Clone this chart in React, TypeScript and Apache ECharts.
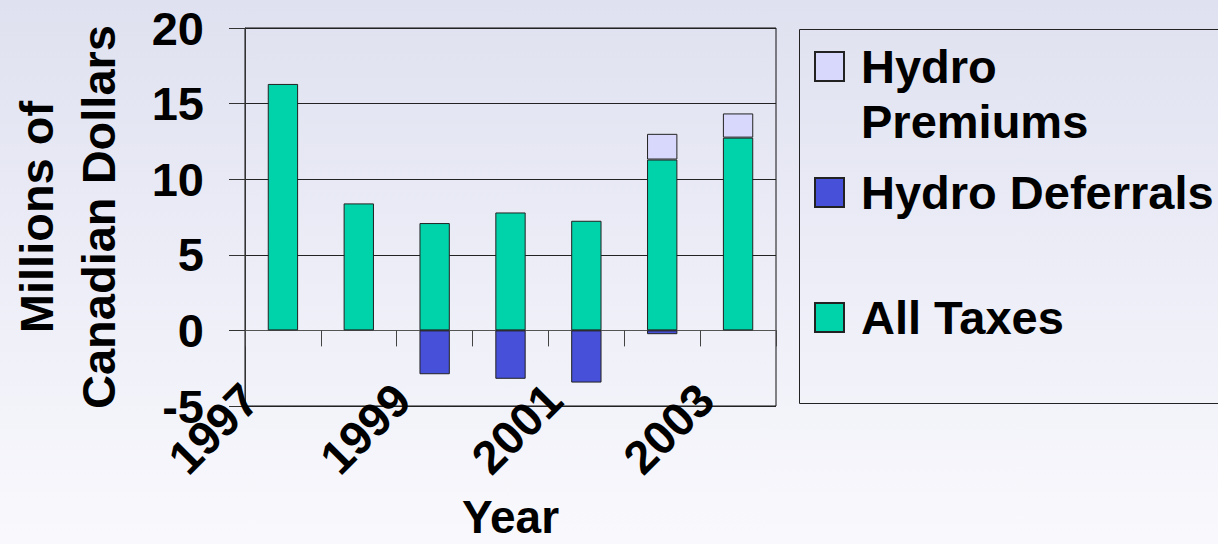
import React, { useEffect, useRef } from "react";
import * as echarts from "echarts";

const years = ["1997", "1998", "1999", "2000", "2001", "2002", "2003"];
const allTaxes = [16.3, 8.4, 7.1, 7.8, 7.25, 11.3, 12.75];
const hydroDeferrals: (number | string)[] = ["-", "-", -2.9, -3.2, -3.45, -0.25, "-"];
const hydroPremiums: (number | string)[] = ["-", "-", "-", "-", "-", 1.7, 1.6];
const yTicks = { min: -5, max: 20, interval: 5 };

const FONT = "'Liberation Sans', Arial, sans-serif";
const FS = 47;

export default function App() {
  const ref = useRef<HTMLDivElement>(null);
  useEffect(() => {
    if (!ref.current) return;
    const chart = echarts.init(ref.current, undefined, { renderer: "svg" });
    const barBorder = { borderColor: "#222", borderWidth: 1 };
    const legendBase = {
      orient: "vertical",
      left: 814,
      padding: 0,
      itemWidth: 29,
      itemHeight: 29,
      icon: "rect",
      selectedMode: false,
    };
    const legendText = {
      fontFamily: FONT,
      fontWeight: "bold",
      fontSize: FS,
      color: "#000",
      lineHeight: 55,
      padding: [0, 0, 0, 12],
    };
    chart.setOption({
      animation: false,
      backgroundColor: {
        type: "linear",
        x: 0,
        y: 0,
        x2: 0,
        y2: 1,
        colorStops: [
          { offset: 0, color: "#dfe1f0" },
          { offset: 1, color: "#f9f9fd" },
        ],
      },
      textStyle: { fontFamily: FONT, fontWeight: "bold" },
      grid: {
        left: 245,
        right: 1218 - 776,
        top: 28,
        bottom: 544 - 406,
        containLabel: false,
        outerBoundsMode: "none",
        show: true,
        borderColor: "#111",
        borderWidth: 1,
        backgroundColor: "transparent",
      },
      legend: [
        {
          ...legendBase,
          top: -16,
          data: ["Hydro Premiums"],
          formatter: () => " \nHydro\nPremiums",
          textStyle: legendText,
        },
        {
          ...legendBase,
          top: 165,
          data: ["Hydro Deferrals"],
          textStyle: legendText,
        },
        {
          ...legendBase,
          top: 290,
          data: ["All Taxes"],
          textStyle: legendText,
        },
      ],
      xAxis: {
        type: "category",
        data: years,
        name: "Year",
        nameLocation: "middle",
        nameGap: 91,
        nameTextStyle: {
          fontFamily: FONT,
          fontWeight: "bold",
          fontSize: 46,
          color: "#000",
          lineHeight: 40,
        },
        axisLine: { show: true, onZero: true, lineStyle: { color: "#555", width: 1 } },
        axisTick: { show: true, interval: 0, length: 16, lineStyle: { color: "#444" } },
        axisLabel: {
          interval: 1,
          rotate: 45,
          margin: -47,
          padding: [0, 46, 0, 0],
          fontFamily: FONT,
          fontWeight: "bold",
          fontSize: FS,
          color: "#000",
        },
        splitLine: { show: false },
      },
      yAxis: {
        type: "value",
        min: yTicks.min,
        max: yTicks.max,
        interval: yTicks.interval,
        name: "Millions of\nCanadian Dollars",
        nameLocation: "middle",
        nameGap: 116,
        nameRotate: 90,
        nameTextStyle: {
          fontFamily: FONT,
          fontWeight: "bold",
          fontSize: FS,
          color: "#000",
          lineHeight: 62,
        },
        axisLine: { show: true, lineStyle: { color: "#333" } },
        axisTick: { show: true, length: 16, lineStyle: { color: "#333" } },
        axisLabel: {
          margin: 41,
          fontFamily: FONT,
          fontWeight: "bold",
          fontSize: FS,
          color: "#000",
        },
        splitLine: { show: true, lineStyle: { color: "#222", width: 1 } },
      },
      series: [
        {
          name: "All Taxes",
          type: "bar",
          stack: "total",
          barWidth: "40%",
          data: allTaxes,
          itemStyle: { color: "#00d2aa", ...barBorder },
        },
        {
          name: "Hydro Deferrals",
          type: "bar",
          stack: "total",
          barWidth: "40%",
          data: hydroDeferrals,
          itemStyle: { color: "#4650d8", ...barBorder },
        },
        {
          name: "Hydro Premiums",
          type: "bar",
          stack: "total",
          barWidth: "40%",
          data: hydroPremiums,
          itemStyle: { color: "#d8d8fc", ...barBorder },
        },
      ],
      graphic: [
        {
          type: "rect",
          shape: { x: 799.5, y: 29.5, width: 440, height: 374 },
          style: { fill: "transparent", stroke: "#222", lineWidth: 1 },
          silent: true,
        },
      ],
    });
    return () => chart.dispose();
  }, []);
  return (
    <div
      ref={ref}
      style={{ position: "fixed", left: 0, top: 0, width: 1218, height: 544 }}
    />
  );
}
